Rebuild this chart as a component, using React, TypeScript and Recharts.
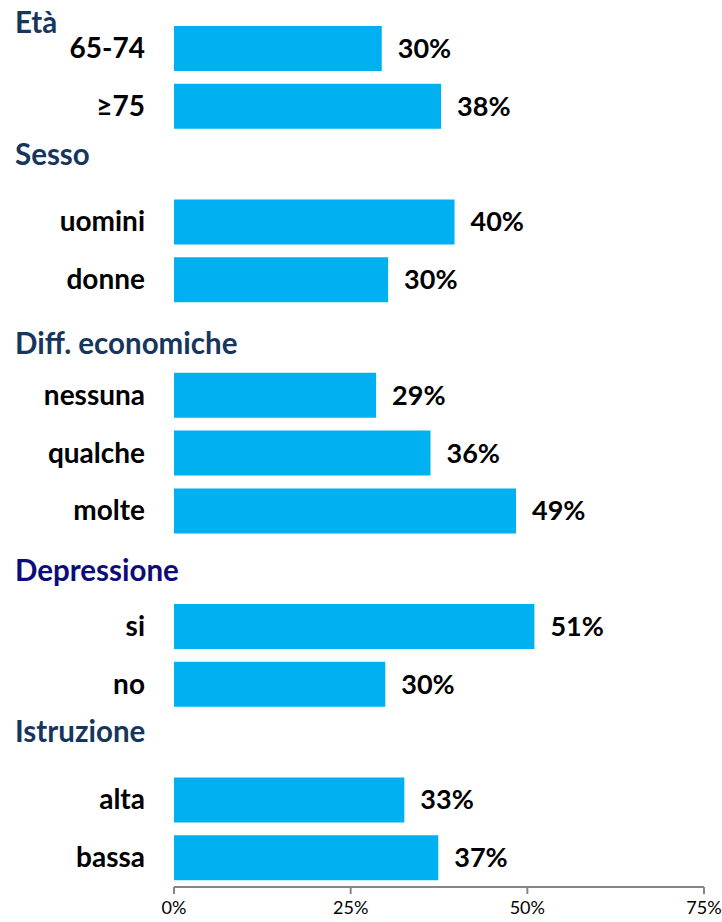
import { BarChart, Bar, XAxis, YAxis, LabelList } from 'recharts'

// rows top to bottom; null value marks a group header row
const categories = [
  '65-74', '≥75',
  'Sesso', 'uomini', 'donne',
  'Diff. economiche', 'nessuna', 'qualche', 'molte',
  'Depressione', 'si', 'no',
  'Istruzione', 'alta', 'bassa',
]
// bar lengths (%)
const values: (number | null)[] = [
  29.4, 37.8,
  null, 39.7, 30.3,
  null, 28.6, 36.3, 48.4,
  null, 51.0, 29.9,
  null, 32.6, 37.4,
]
// printed labels
const valueLabels: (string | null)[] = [
  '30%', '38%',
  null, '40%', '30%',
  null, '29%', '36%', '49%',
  null, '51%', '30%',
  null, '33%', '37%',
]
const xTicks = [0, 25, 50, 75]

// header text colour / small vertical nudges (the headers were loose text boxes)
const headerColor: Record<string, string> = {
  'Sesso': '#17365d',
  'Diff. economiche': '#17365d',
  'Depressione': '#0c0c7a',
  'Istruzione': '#17365d',
}
const headerNudge: Record<string, number> = {
  'Sesso': -10,
  'Diff. economiche': 5,
  'Depressione': 1,
  'Istruzione': -11,
}

const data = categories.map((name, i) => ({ name, value: values[i], label: valueLabels[i] ?? '' }))

const FONT = 'Lato, "Open Sans", sans-serif'

function CategoryTick(props: any) {
  const { x, y, payload } = props
  const name = payload.value as string
  if (headerColor[name]) {
    return (
      <text x={15} y={y + headerNudge[name]} dy="0.36em" textAnchor="start"
        fill={headerColor[name]} fontFamily={FONT} fontWeight={700} fontSize={29.5}>
        {name}
      </text>
    )
  }
  return (
    <text x={x} y={y - 1} dy="0.36em" textAnchor="end" fill="#000"
      fontFamily={FONT} fontWeight={700} fontSize={28}>
      {name}
    </text>
  )
}

export default function App() {
  return (
    <div style={{ position: 'absolute', left: 0, top: 0, width: 722, height: 922, background: '#fff' }}>
      <div style={{
        position: 'absolute', left: 15, top: 5, color: '#17365d',
        fontFamily: FONT, fontWeight: 700, fontSize: 29.5, lineHeight: '34px',
      }}>
        Età
      </div>
      <BarChart
        width={722}
        height={922}
        data={data}
        layout="vertical"
        margin={{ top: 20, right: 18, left: 0, bottom: 0 }}
      >
        <XAxis
          type="number"
          domain={[0, 75]}
          ticks={xTicks}
          tickFormatter={(v) => `${v}%`}
          height={35}
          axisLine={{ stroke: '#868686', strokeWidth: 2 }}
          tickLine={{ stroke: '#868686', strokeWidth: 2 }}
          tickSize={7}
          tickMargin={7}
          tick={{ fill: '#000', fontSize: 18, fontFamily: FONT }}
        />
        <YAxis
          type="category"
          dataKey="name"
          width={174}
          axisLine={false}
          tickLine={false}
          tickSize={0}
          tickMargin={29}
          interval={0}
          tick={<CategoryTick />}
        />
        <Bar dataKey="value" fill="#00b0f0" barSize={45} isAnimationActive={false}>
          <LabelList
            dataKey="label"
            position="right"
            offset={16}
            style={{ fill: '#000', fontFamily: FONT, fontWeight: 700, fontSize: 27 }}
          />
        </Bar>
      </BarChart>
    </div>
  )
}
